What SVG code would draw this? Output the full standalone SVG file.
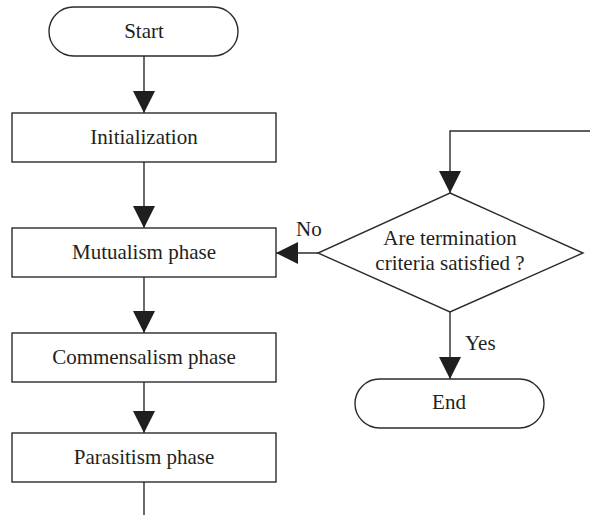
<svg xmlns="http://www.w3.org/2000/svg" width="590" height="515" viewBox="0 0 590 515">
  <style>
    .shape { fill: #ffffff; stroke: #2b2b2b; stroke-width: 1.4; }
    .edge { fill: none; stroke: #2b2b2b; stroke-width: 1.4; }
    .label { font-family: "Liberation Serif", "Times New Roman", serif; font-size: 21px; fill: #231f20; text-anchor: middle; }
    .note { font-family: "Liberation Serif", "Times New Roman", serif; font-size: 21px; fill: #231f20; }
  </style>
  <defs>
    <marker id="arrow" markerUnits="userSpaceOnUse" markerWidth="22" markerHeight="22" refX="22" refY="11" orient="auto" viewBox="0 0 22 22">
      <path d="M0,0 L22,11 L0,22 Z" fill="#1f1f1f"/>
    </marker>
  </defs>

  <rect width="590" height="515" fill="#ffffff"/>

  <!-- connectors -->
  <g id="connectors">
    <line class="edge" x1="144" y1="56" x2="144" y2="113" marker-end="url(#arrow)"/>
    <line class="edge" x1="144" y1="162" x2="144" y2="228" marker-end="url(#arrow)"/>
    <line class="edge" x1="144" y1="277" x2="144" y2="333" marker-end="url(#arrow)"/>
    <line class="edge" x1="144" y1="382" x2="144" y2="433" marker-end="url(#arrow)"/>
    <line class="edge" x1="144" y1="482" x2="144" y2="515"/>
    <polyline class="edge" points="590,131 450,131 450,193" marker-end="url(#arrow)"/>
    <line class="edge" x1="318" y1="253" x2="276" y2="253" marker-end="url(#arrow)"/>
    <line class="edge" x1="450" y1="312" x2="450" y2="379" marker-end="url(#arrow)"/>
    <text class="note" x="296" y="236">No</text>
    <text class="note" x="465" y="350">Yes</text>
  </g>

  <g id="start">
    <rect class="shape" x="49" y="7" width="189" height="49" rx="24.5" ry="24.5"/>
    <text class="label" x="144" y="38">Start</text>
  </g>

  <g id="initialization">
    <rect class="shape" x="12" y="113" width="264" height="49"/>
    <text class="label" x="144" y="144">Initialization</text>
  </g>

  <g id="mutualism">
    <rect class="shape" x="12" y="228" width="264" height="49"/>
    <text class="label" x="144" y="259">Mutualism phase</text>
  </g>

  <g id="commensalism">
    <rect class="shape" x="12" y="333" width="264" height="49"/>
    <text class="label" x="144" y="364">Commensalism phase</text>
  </g>

  <g id="parasitism">
    <rect class="shape" x="12" y="433" width="264" height="49"/>
    <text class="label" x="144" y="464">Parasitism phase</text>
  </g>

  <g id="termination-check">
    <polygon class="shape" points="450,193 583,253 450,312 318,253"/>
    <text class="label" x="450" y="245">Are termination</text>
    <text class="label" x="450" y="270">criteria satisfied ?</text>
  </g>

  <g id="end">
    <rect class="shape" x="355" y="379" width="189" height="49" rx="24.5" ry="24.5"/>
    <text class="label" x="449" y="409">End</text>
  </g>
</svg>
